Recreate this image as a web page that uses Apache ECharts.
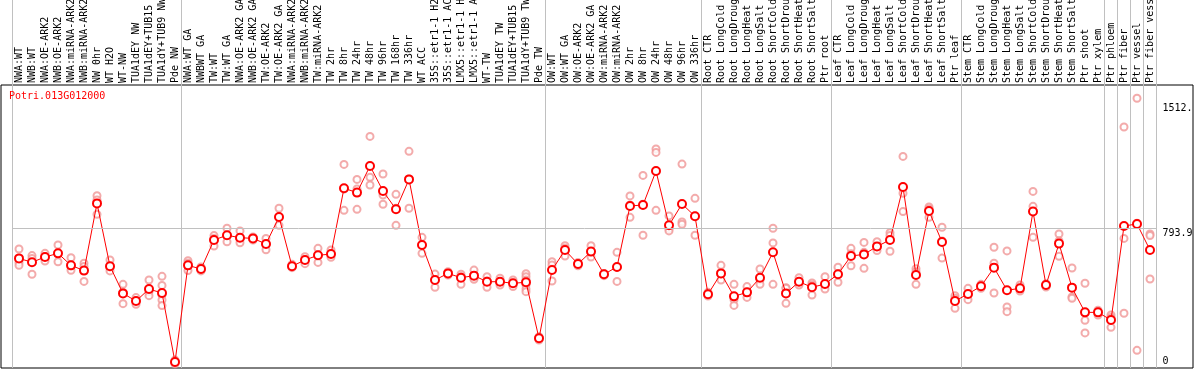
<!DOCTYPE html>
<html><head><meta charset="utf-8">
<script src="https://cdn.jsdelivr.net/npm/echarts@6/dist/echarts.min.js"></script>
<style>html,body{margin:0;padding:0;background:#fff}#c{width:1194px;height:370px}</style>
</head><body><div id="c"></div><script>
const chartTitle = 'Potri.013G012000';
const categories = [
'NWA:WT','NWB:WT','NWA:OE-ARK2','NWB:OE-ARK2','NWA:miRNA-ARK2','NWB:miRNA-ARK2','NW 0hr','WT H2O','WT-NW','TUA1dEY NW','TUA1dEY+TUB15 NW','TUA1dY+TUB9 NW','Pde NW',
'NWA:WT GA','NWBWT GA','TW:WT','TW:WT GA','NWA:OE-ARK2 GA','NWB:OE-ARK2 GA','TW:OE-ARK2','TW:OE-ARK2 GA','NWA:miRNA-ARK2 GA','NWB:miRNA-ARK2 GA','TW:miRNA-ARK2','TW 2hr','TW 8hr','TW 24hr','TW 48hr','TW 96hr','TW 168hr','TW 336hr','WT ACC','35S::etr1-1 H2O','35S::etr1-1 ACC','LMX5::etr1-1 H2O','LMX5::etr1-1 ACC','WT-TW','TUA1dEY TW','TUA1dEY+TUB15 TW','TUA1dY+TUB9 TW','Pde TW',
'OW:WT','OW:WT GA','OW:OE-ARK2','OW:OE-ARK2 GA','OW:miRNA-ARK2','OW:miRNA-ARK2 GA','OW 2hr','OW 8hr','OW 24hr','OW 48hr','OW 96hr','OW 336hr',
'Root CTR','Root LongCold','Root LongDrought','Root LongHeat','Root LongSalt','Root ShortCold','Root ShortDrought','Root ShortHeat','Root ShortSalt','Ptr root',
'Leaf CTR','Leaf LongCold','Leaf LongDrought','Leaf LongHeat','Leaf LongSalt','Leaf ShortCold','Leaf ShortDrought','Leaf ShortHeat','Leaf ShortSalt','Ptr leaf',
'Stem CTR','Stem LongCold','Stem LongDrought','Stem LongHeat','Stem LongSalt','Stem ShortCold','Stem ShortDrought','Stem ShortHeat','Stem ShortSalt','Ptr shoot','Ptr xylem',
'Ptr phloem','Ptr fiber','Ptr vessel','Ptr fiber vessel'];

const means = [
621, 599, 629, 650, 581, 551, 937, 576, 420, 376, 445, 422, 26,
581, 560, 727, 754, 740, 736, 704, 859, 576, 612, 639, 646, 1024, 999, 1152, 1008, 903, 1075, 698, 497, 535, 510, 522, 487, 487, 478, 484, 162,
554, 669, 589, 660, 530, 572, 922, 928, 1123, 811, 934, 863,
415, 535, 403, 426, 510, 656, 420, 487, 455, 474,
530, 635, 644, 690, 727, 1031, 526, 893, 715, 376,
417, 461, 568, 438, 449, 890, 468, 706, 453, 311, 311,
267, 807, 819, 669];

const replicates = [
[675,598,581],[637,621,530],[650,631,606],[698,650,602],[625,574,553],[593,574,489],[981,957,874],[612,568,549],[472,426,361],[396,376,357],[497,430,407],[518,466,411,382,350],[37,26,16],
[608,593,551],[572,558,549],[752,736,692],[794,752,717],[779,733,711],[744,736,727],[736,704,671],[909,857,811],[587,574,568],[631,612,591],[679,641,598],[669,646,627],[1161,1020,897],[1075,1020,903],[1322,1087,1043],[1106,985,932],[989,909,811],[1236,1077,909],[742,698,650],[531,497,455],[545,535,526],[530,516,472],[554,510,501],[516,491,455],[507,487,468],[497,478,459],[533,516,497,468,445,430],[171,162,152],
[602,583,491],[694,679,635],[598,589,579],[694,660,629],[535,529,522],[656,570,489],[980,928,857],[1098,932,754],[1250,1230,897],[865,790,779],[1163,830,817],[966,865,754],
[426,415,405],[581,529,497],[472,384,351],[459,426,397],[560,497,472],[794,710,472],[453,449,363],[510,484,468],[480,468,411],[516,468,445],
[570,531,484],[679,648,579],[713,656,564],[717,689,666],[769,752,662],[1207,995,890],[562,545,472],[916,905,857],[800,721,623],[407,392,334],
[449,411,384],[472,461,449],[685,593,422],[664,342,315],[468,449,434],[1006,920,742],[476,468,457],[761,721,633],[566,399,392],[478,265,193],[323,311,296],
[296,281,225],[1376,736,306],[1541,823,93],[761,752,503]];

const groupStarts = [0, 13, 41, 53, 63, 73, 84, 85, 86, 87];
const yTickValues = [0, 793.9, 1512];
const yTickLabels = ['0', '793.9', '1512.'];
const refLineValue = 793.9;
const yMin = -8.6, yMax = 1617.2;

const FONT = 'DejaVu Sans Mono';
const scatterData = [];
replicates.forEach((arr, i) => arr.forEach(v => scatterData.push([i, v])));
const isBreak = (idx) => groupStarts.indexOf(idx) >= 0;
const labelFor = v => { const i = yTickValues.indexOf(v); return i >= 0 ? yTickLabels[i] : ''; };
const labelStyle = {color: '#000', fontFamily: FONT, fontSize: 10};

const chart = echarts.init(document.getElementById('c'), null, {renderer: 'canvas'});
chart.setOption({
  animation: false,
  backgroundColor: '#fff',
  title: {text: chartTitle, left: 9, top: 91, padding: 0,
    textStyle: {color: '#ff0000', fontFamily: FONT, fontSize: 10, fontWeight: 'normal'}},
  grid: [
    {left: 1, right: 1, top: 85, bottom: 2, show: true, borderColor: '#000', borderWidth: 1, backgroundColor: 'transparent', outerBoundsMode: 'none', containLabel: false},
    {left: 12.5, right: 37.5, top: 85, bottom: 2, outerBoundsMode: 'none', containLabel: false},
    {left: 12.5, right: 37.5, top: 0, height: 85, outerBoundsMode: 'none', containLabel: false}
  ],
  xAxis: [
    {gridIndex: 0, type: 'value', show: false, min: 0, max: 1},
    {gridIndex: 1, type: 'category', data: categories, position: 'top', boundaryGap: true,
      axisLine: {show: false}, axisTick: {show: false},
      axisLabel: Object.assign({interval: 0, rotate: 90, margin: 2, hideOverlap: false}, labelStyle),
      splitLine: {show: true, interval: (i) => isBreak(i), lineStyle: {color: '#c0c0c0', width: 1}}},
    {gridIndex: 2, type: 'category', data: categories, boundaryGap: true,
      axisLine: {show: false}, axisTick: {show: false}, axisLabel: {show: false},
      splitLine: {show: true, interval: (i) => isBreak(i), lineStyle: {color: '#c0c0c0', width: 1}}}
  ],
  yAxis: [
    {gridIndex: 0, type: 'value', show: false, min: 0, max: 1},
    {gridIndex: 1, type: 'value', min: yMin, max: yMax, position: 'right',
      axisLine: {show: false}, axisTick: {show: false}, splitLine: {show: false},
      axisLabel: Object.assign({customValues: yTickValues.filter(v => v !== 0), verticalAlign: 'top', margin: 6, formatter: labelFor}, labelStyle)},
    {gridIndex: 1, type: 'value', min: yMin, max: yMax, position: 'right',
      axisLine: {show: false}, axisTick: {show: false}, splitLine: {show: false},
      axisLabel: Object.assign({customValues: yTickValues.filter(v => v === 0), verticalAlign: 'bottom', margin: 6, formatter: labelFor}, labelStyle)},
    {gridIndex: 2, type: 'value', show: false, min: 0, max: 1}
  ],
  series: [
    {type: 'scatter', xAxisIndex: 1, yAxisIndex: 1, data: scatterData, symbol: 'emptyCircle', symbolSize: 7,
      itemStyle: {color: '#f09696', borderWidth: 1}, z: 2, silent: true,
      markLine: {silent: true, symbol: 'none', label: {show: false},
        lineStyle: {color: '#c0c0c0', type: 'solid', width: 1}, data: [{yAxis: refLineValue}]}},
    {type: 'line', xAxisIndex: 1, yAxisIndex: 1, data: means, symbol: 'emptyCircle', symbolSize: 8, showAllSymbol: true,
      lineStyle: {color: '#ff0000', width: 1}, itemStyle: {color: '#ff0000', borderWidth: 1.5}, z: 3, silent: true}
  ]
});
</script></body></html>
